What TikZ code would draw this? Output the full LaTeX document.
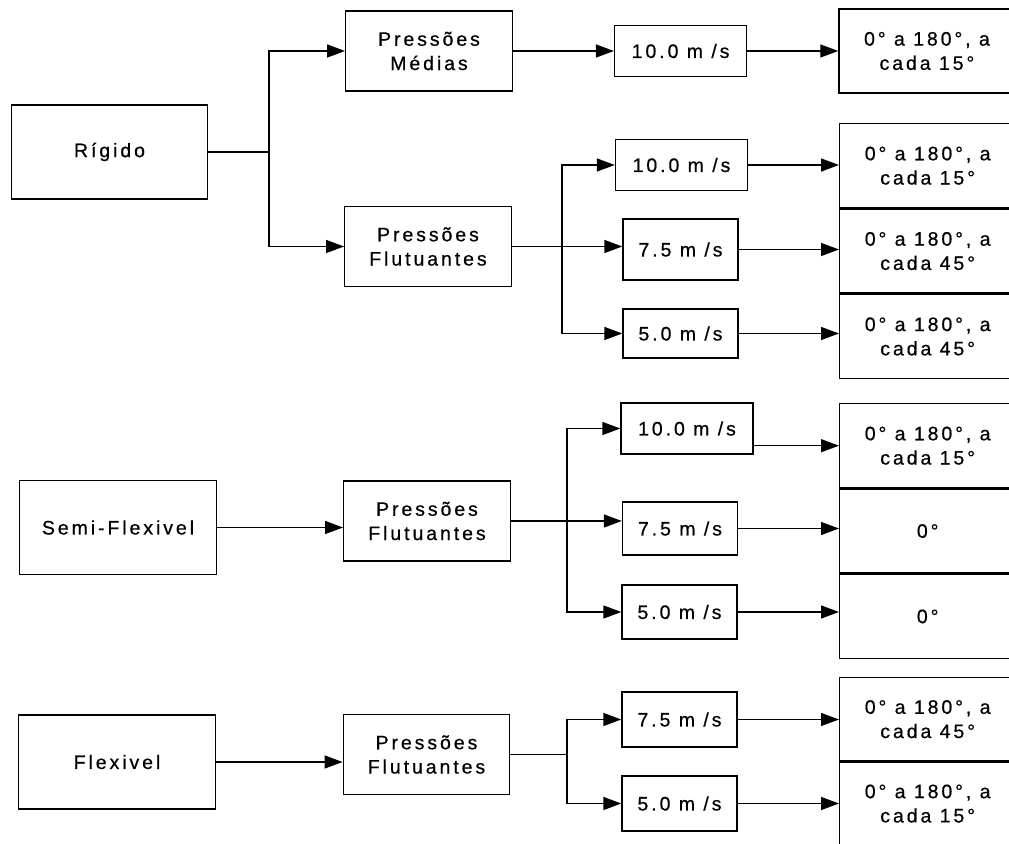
\documentclass[tikz,border=0pt]{standalone}
\usepackage{fontspec}
\setmainfont{Liberation Sans}[LetterSpace=15, FakeBold=0.6]
\usetikzlibrary{positioning, arrows.meta}
\tikzset{
  rect1/.style = {
    shape = rectangle,
    draw = black,
    line width = 0.8pt,
    align = center,
    inner sep = 0pt,
    font = \fontsize{11.1}{13.8}\selectfont,
  },
  left1/.style = {rect1, minimum width = 3.93cm, minimum height = 1.88cm},
  mid1/.style = {rect1, minimum width = 3.33cm, minimum height = 1.6cm},
  speed1/.style = {rect1, minimum width = 2.64cm, minimum height = 1.02cm},
  speed2/.style = {rect1, minimum width = 2.3cm, minimum height = 1.1cm},
  angle1/.style = {rect1, minimum width = 3.52cm, minimum height = 1.68cm},
}
\tikzset{
  arrow1/.style = {
    draw = black, line width = 0.8pt, -{Triangle[length = 3.6mm, width = 2.6mm]},
  },
  line1/.style = {draw = black, line width = 0.8pt},
}

\begin{document}
\begin{tikzpicture}[x = 0.02cm, y = -0.02cm]
        \useasboundingbox (0,0) rectangle (1009,844);
        \node[left1](rig) at (109.5,152){Rígido};
        \node[left1](semi) at (118,527.5){Semi-Flexivel};
        \node[left1](flex) at (117,762){Flexivel};
        \node[mid1](pm) at (429,51){Pressões\\Médias};
        \node[mid1](pf1) at (428,246.5){Pressões\\Flutuantes};
        \node[mid1](pf2) at (427,521){Pressões\\Flutuantes};
        \node[mid1](pf3) at (426.5,754.5){Pressões\\Flutuantes};
        \node[speed1, right = 2.02cm of pm](v1){10.0 m /s};
        \node[speed1](v2) at (681.5,165){10.0 m /s};
        \node[speed2, minimum height = 1.22cm](v3) at (680.5,249.5){7.5 m /s};
        \node[speed2, minimum height = 0.98cm](v4) at (680.5,333.5){5.0 m /s};
        \node[speed1](v5) at (687,428.5){10.0 m /s};
        \node[speed2, minimum height = 1.06cm](v6) at (680,528.5){7.5 m /s};
        \node[speed2, minimum height = 1.08cm](v7) at (679.5,612){5.0 m /s};
        \node[speed2](v8) at (679.5,719.5){7.5 m /s};
        \node[speed2](v9) at (679.5,803.5){5.0 m /s};
        \node[angle1, right = 1.82cm of v1](a1){0° a 180°, a\\cada 15°};
        \node[angle1, anchor = north west](a2) at (839,123){0° a 180°, a\\cada 15°};
        \node[angle1, below = 0pt of a2](a3){0° a 180°, a\\cada 45°};
        \node[angle1, below = 0pt of a3](a4){0° a 180°, a\\cada 45°};
        \node[angle1, anchor = north west](a5) at (839,403){0° a 180°, a\\cada 15°};
        \node[angle1, below = 0pt of a5](a6){0°};
        \node[angle1, below = 0pt of a6](a7){0°};
        \node[angle1, anchor = north west, minimum height = 1.66cm](a8) at (839,677){0° a 180°, a\\cada 45°};
        \node[angle1, below = 0pt of a8, minimum height = 1.66cm](a9){0° a 180°, a\\cada 15°};
        \coordinate (j1) at (269,152);
        \coordinate (j2) at (562,246.5);
        \coordinate (j3) at (567,521);
        \coordinate (j4) at (567,754.5);
        \draw[line1](rig) -- (j1);
        \draw[arrow1](j1) |- (pm);
        \draw[arrow1](j1) |- (pf1);
        \draw[arrow1](pm) -- (v1);
        \draw[arrow1](v1) -- (v1 -| a1.west);
        \draw[arrow1](pf1) -- (pf1 -| v3.west);
        \draw[arrow1](j2) |- (v2);
        \draw[arrow1](j2) |- (v4);
        \draw[arrow1](v2) -- (v2 -| a2.west);
        \draw[arrow1](v3) -- (v3 -| a3.west);
        \draw[arrow1](v4) -- (v4 -| a4.west);
        \draw[arrow1](semi) -- (semi -| pf2.west);
        \draw[arrow1](pf2) -- (pf2 -| v6.west);
        \draw[arrow1](j3) |- (v5);
        \draw[arrow1](j3) |- (v7);
        \draw[arrow1](v5.east |- a5) -- (a5.west);
        \draw[arrow1](v6) -- (v6 -| a6.west);
        \draw[arrow1](v7) -- (v7 -| a7.west);
        \draw[arrow1](flex) -- (flex -| pf3.west);
        \draw[line1](pf3) -- (j4);
        \draw[arrow1](j4) |- (v8);
        \draw[arrow1](j4) |- (v9);
        \draw[arrow1](v8) -- (v8 -| a8.west);
        \draw[arrow1](v9) -- (v9 -| a9.west);
    \end{tikzpicture}
\end{document}
